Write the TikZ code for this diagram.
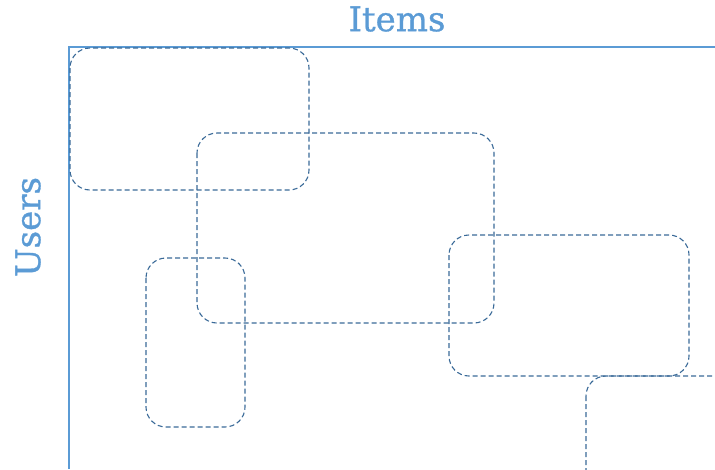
\documentclass[tikz,border=0pt]{standalone}
\usepackage{fontspec}
\setmainfont{DejaVu Serif}
\newfontfamily\lblfont[FakeBold=0.9]{DejaVu Serif}
\definecolor{axisblue}{HTML}{5B9BD5}
\definecolor{boxblue}{HTML}{3A6A98}
\begin{document}
\begin{tikzpicture}[x=1pt,y=-1pt,
  grp/.style={draw=boxblue,line width=1.1pt,dash pattern=on 5pt off 3pt,rounded corners=20pt},
  axis/.style={draw=axisblue,line width=1.3pt},
  lbl/.style={text=axisblue,font=\lblfont\fontsize{34}{36}\selectfont,inner sep=0pt}]
\useasboundingbox (0,0) rectangle (715,469);
\node[lbl] (items) at (397,19) {Items};
\node[lbl,rotate=90] (users) at (28,227) {Users};
\coordinate (o) at (69,47);
\coordinate (xe) at (715,47);
\coordinate (ye) at (69,469);
\draw[axis] (xe) -- (o) -- (ye);
\begin{scope}
\clip (0,0) rectangle (715,469);
\draw[grp] (70,48) rectangle (309,190);
\draw[grp] (197,133) rectangle (494,323);
\draw[grp] (146,258) rectangle (245,427);
\draw[grp] (449,235) rectangle (689,376);
\draw[grp] (586,376) rectangle (760,520);
\end{scope}
\end{tikzpicture}
\end{document}
